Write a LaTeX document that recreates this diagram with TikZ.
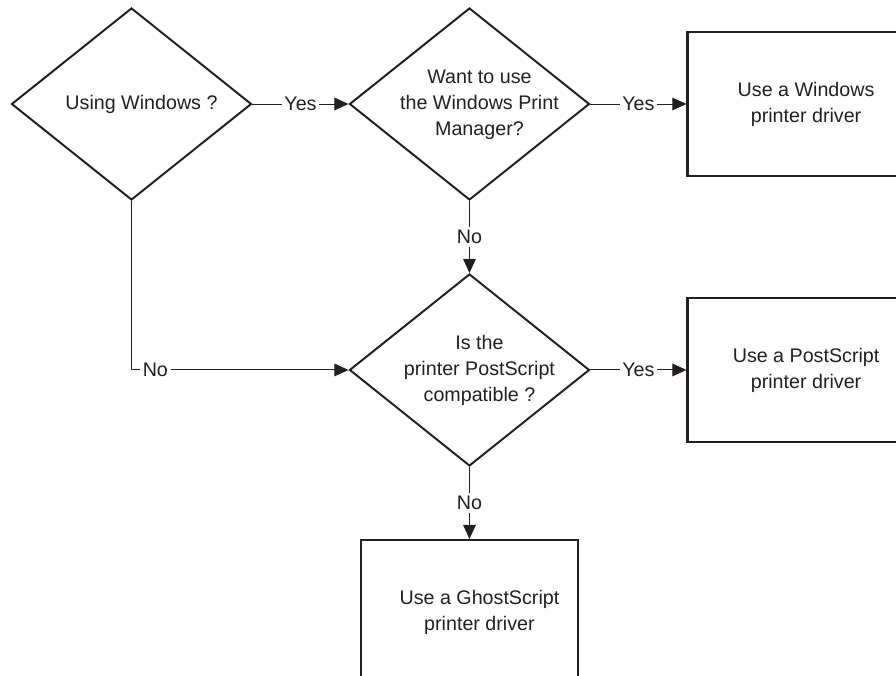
\documentclass[tikz,border=0pt]{standalone}
\usepackage{fontspec}
\setmainfont{Liberation Sans}
\usetikzlibrary{positioning,shapes.geometric,arrows.meta}
\definecolor{inkgray}{RGB}{35,31,32}
\newcommand{\flowfont}{\fontsize{14}{18.5}\selectfont}
% text sits a little right of each shape's centre
\newcommand{\boxtext}[1]{\begin{tabular}{@{\hspace{5mm}}c@{}}#1\end{tabular}}

\begin{document}
\begin{tikzpicture}[
    node distance=1.8cm and 2.4cm,
    decision/.style={diamond, draw=inkgray, line width=1.4pt,
                     minimum width=6cm, minimum height=4.8cm, inner sep=-16pt,
                     text=inkgray, font=\flowfont},
    action/.style={rectangle, draw=inkgray, line width=1.6pt,
                   minimum width=5.425cm, minimum height=3.6cm,
                   text=inkgray, font=\flowfont},
    flow/.style={draw=inkgray, line width=0.7pt,
                 -{Triangle[length=10pt,width=9pt]}},
    answer/.style={fill=white, inner sep=2pt, text=inkgray, font=\flowfont}
]
\useasboundingbox (0,0) rectangle (22.4,-16.9);
\clip (0,0) rectangle (22.4,-16.9);

\node[decision] (win) at (3.2875,-2.6) {\boxtext{Using Windows ?}};
\node[decision, right=of win] (mgr) {\boxtext{Want to use\\the Windows Print\\Manager?}};
\node[action, right=of mgr] (windrv) {\boxtext{Use a Windows\\printer driver}};

\node[decision, below=of mgr] (ps) {\boxtext{Is the\\printer PostScript\\compatible ?}};
\node[action, right=of ps] (psdrv) {\boxtext{Use a PostScript\\printer driver}};
\node[action, below=of ps] (gsdrv) {\boxtext{Use a GhostScript\\printer driver}};

\draw[flow] (win) -- node[answer] {Yes} (mgr);
\draw[flow] (mgr) -- node[answer] {Yes} (windrv);
\draw[flow] (mgr) -- node[answer] {No} (ps);
\draw[flow] (win.south) |- node[answer, pos=0.555] {No} (ps.west);
\draw[flow] (ps) -- node[answer] {Yes} (psdrv);
\draw[flow] (ps) -- node[answer] {No} (gsdrv);

\end{tikzpicture}
\end{document}
